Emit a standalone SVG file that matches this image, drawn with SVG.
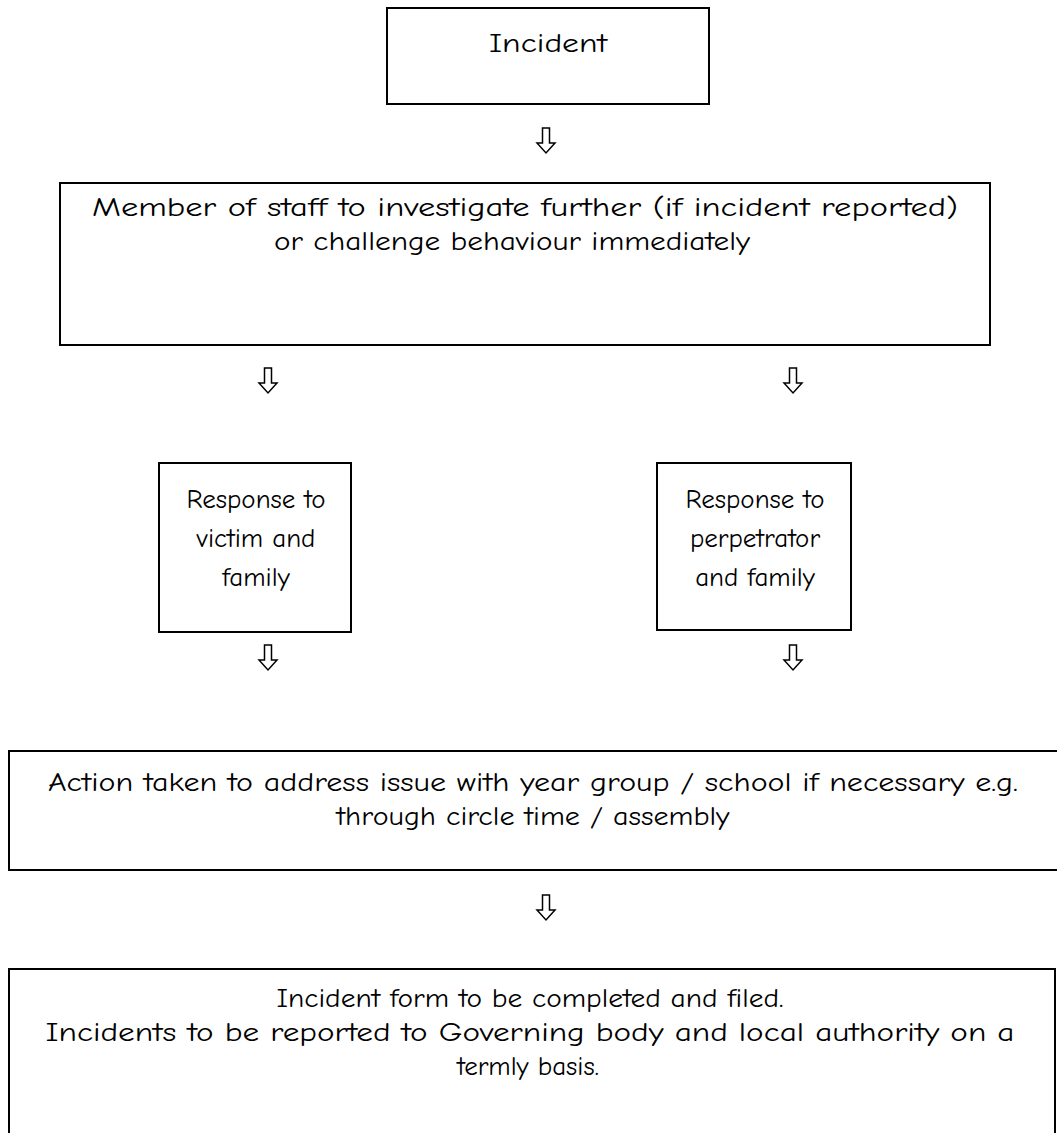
<svg xmlns="http://www.w3.org/2000/svg" width="1057" height="1133" viewBox="0 0 1057 1133">
<style>
.box{fill:#fff;stroke:#000;stroke-width:2}
.t{font-family:"Comic Sans MS","Comic Neue","DejaVu Sans",sans-serif;font-size:27px;fill:#000;text-anchor:middle}
.arr{fill:#fff;stroke:#000;stroke-width:1.5;stroke-linejoin:miter}
</style>
<defs>
<path id="dn" d="M-3.5,0 H3.5 V15 H9 L0,25 L-9,15 H-3.5 Z"/>
</defs>
<rect width="1057" height="1133" fill="#fff"/>
<g id="n-incident">
<rect class="box" x="387" y="8" width="322" height="96"/>
<text class="t" x="548" y="52" textLength="118" lengthAdjust="spacingAndGlyphs">Incident</text>
</g>
<g id="n-staff">
<rect class="box" x="60" y="183" width="930" height="162"/>
<text class="t" x="525" y="216" textLength="866" lengthAdjust="spacingAndGlyphs">Member of staff to investigate further (if incident reported)</text>
<text class="t" x="512" y="250" textLength="476" lengthAdjust="spacingAndGlyphs">or challenge behaviour immediately</text>
</g>
<g id="n-victim">
<rect class="box" x="159" y="463" width="192" height="169"/>
<text class="t" x="256" y="508">Response to</text>
<text class="t" x="256" y="547">victim and</text>
<text class="t" x="256" y="586">family</text>
</g>
<g id="n-perp">
<rect class="box" x="657" y="463" width="194" height="167"/>
<text class="t" x="755" y="508">Response to</text>
<text class="t" x="755" y="547">perpetrator</text>
<text class="t" x="755" y="586">and family</text>
</g>
<g id="n-action">
<rect class="box" x="9" y="751" width="1060" height="119"/>
<text class="t" x="533" y="791" textLength="970" lengthAdjust="spacingAndGlyphs">Action taken to address issue with year group / school if necessary e.g.</text>
<text class="t" x="533" y="825" textLength="393" lengthAdjust="spacingAndGlyphs">through circle time / assembly</text>
</g>
<g id="n-form">
<rect class="box" x="9" y="969" width="1046" height="180"/>
<text class="t" x="530" y="1007" textLength="507" lengthAdjust="spacingAndGlyphs">Incident form to be completed and filed.</text>
<text class="t" x="530" y="1041" textLength="969" lengthAdjust="spacingAndGlyphs">Incidents to be reported to Governing body and local authority on a</text>
<text class="t" x="528" y="1075">termly basis.</text>
</g>
<g id="connectors">
<use href="#dn" class="arr" x="546" y="128"/>
<use href="#dn" class="arr" x="268" y="368"/>
<use href="#dn" class="arr" x="793" y="368"/>
<use href="#dn" class="arr" x="268" y="645"/>
<use href="#dn" class="arr" x="793" y="645"/>
<use href="#dn" class="arr" x="546" y="895"/>
</g>
</svg>
